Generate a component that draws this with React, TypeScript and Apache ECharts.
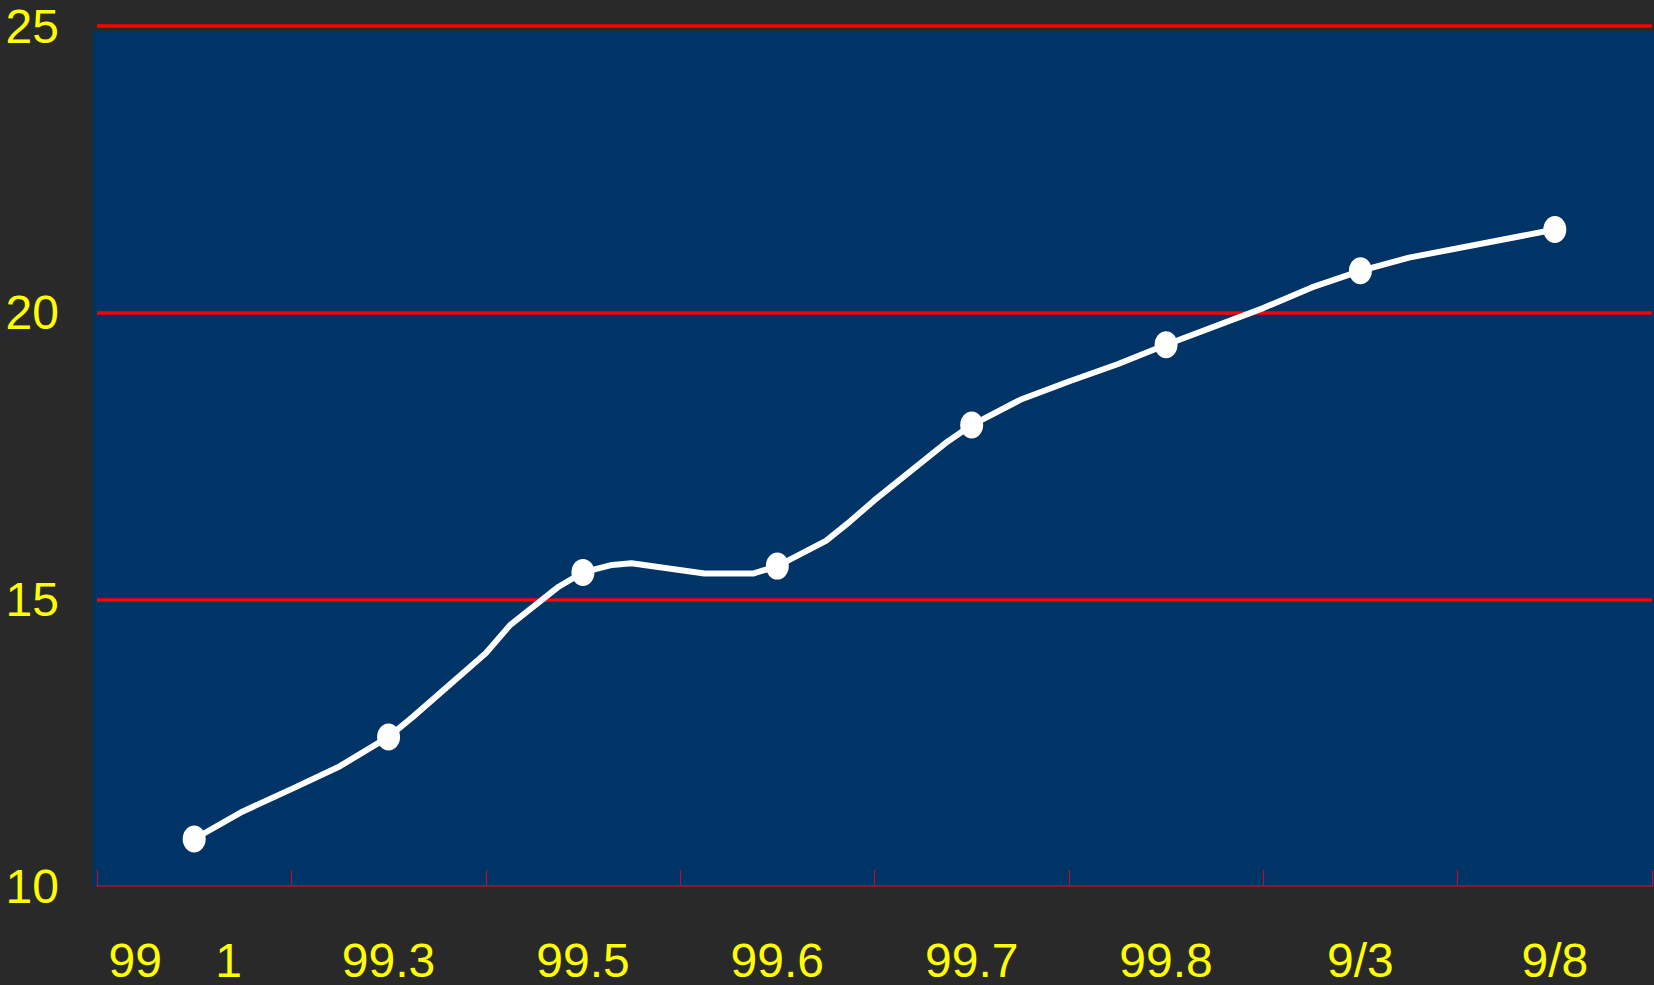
import React, { useEffect, useRef } from "react";
import * as echarts from "echarts";

const categories = ["99    1", "99.3", "99.5", "99.6", "99.7", "99.8", "9/3", "9/8"];
const monthlyValues = [10.82, 12.6, 15.47, 15.58, 18.04, 19.44, 20.73, 21.45];
const yTicks = [10, 15, 20, 25];

// intermediate readings along the category scale (0..8, band centres at i + 0.5)
const pathX = [0.5, 0.75, 1.0, 1.25, 1.5, 1.625, 2.0, 2.125, 2.375, 2.5, 2.65, 2.75, 3.125, 3.375, 3.5, 3.75, 3.875, 4.0, 4.375, 4.5, 4.75, 5.0, 5.25, 5.5, 6.0, 6.25, 6.5, 6.75, 7.5];
const pathY = [10.82, 11.3, 11.69, 12.09, 12.6, 12.95, 14.06, 14.55, 15.22, 15.47, 15.6, 15.63, 15.45, 15.45, 15.58, 16.02, 16.36, 16.73, 17.75, 18.04, 18.48, 18.8, 19.1, 19.44, 20.08, 20.44, 20.73, 20.96, 21.45];

const FONT = "'Liberation Sans Narrow', 'Arial Narrow', 'Liberation Sans', Arial, sans-serif";
const ELLIPSE = "path://M0,-1A1,1,0,1,1,0,1A1,1,0,1,1,0,-1Z";
const FS = 48;

export default function App() {
  const ref = useRef<HTMLDivElement>(null);
  useEffect(() => {
    document.body.style.margin = "0";
    const chart = echarts.init(ref.current!, null, { renderer: "svg" });
    chart.setOption({
      animation: false,
      backgroundColor: "#292929",
      graphic: [
        {
          type: "rect",
          z: -10,
          silent: true,
          shape: { x: 93, y: 31, width: 1561, height: 856 },
          style: { fill: "#003366" },
        },
      ],
      grid: { left: 97, right: 2, top: 26, bottom: 99, containLabel: false },
      xAxis: [
        {
          type: "category",
          data: categories,
          boundaryGap: true,
          axisLine: { show: true, lineStyle: { color: "#b8102c", width: 1.5 } },
          axisTick: { show: true, inside: true, interval: 0, length: 16, alignWithLabel: false, lineStyle: { color: "#b8102c", width: 1.2 } },
          axisLabel: {
            interval: 0,
            hideOverlap: false,
            color: "#ffff00",
            fontFamily: FONT,
            fontSize: FS,
            margin: 50,
            formatter: (v: string, i: number) => (i === 0 ? `{a|${v}}` : v),
            rich: { a: { color: "#ffff00", fontFamily: FONT, fontSize: FS, padding: [0, 38, 0, 0] } },
          },
          splitLine: { show: false },
        },
        { type: "value", min: 0, max: 8, show: false },
      ],
      yAxis: {
        type: "value",
        min: yTicks[0],
        max: yTicks[yTicks.length - 1],
        interval: 5,
        axisLine: { show: false },
        axisTick: { show: false },
        axisLabel: { color: "#ffff00", fontFamily: FONT, fontSize: FS, margin: 38 },
        splitLine: { show: true, lineStyle: { color: ["transparent", "#ff0000", "#ff0000", "#ff0000"], width: 3.5 } },
      },
      series: [
        {
          type: "line",
          xAxisIndex: 1,
          data: pathX.map((x, i) => [x, pathY[i]]),
          showSymbol: false,
          symbol: "none",
          lineStyle: { color: "#ffffff", width: 6 },
          z: 3,
        },
        {
          type: "scatter",
          xAxisIndex: 0,
          data: monthlyValues,
          symbol: ELLIPSE,
          symbolSize: [23, 27],
          itemStyle: { color: "#ffffff", opacity: 1 },
          z: 4,
        },
      ],
    });
    return () => chart.dispose();
  }, []);
  return <div ref={ref} style={{ position: "fixed", left: 0, top: 0, width: 1654, height: 985 }} />;
}
